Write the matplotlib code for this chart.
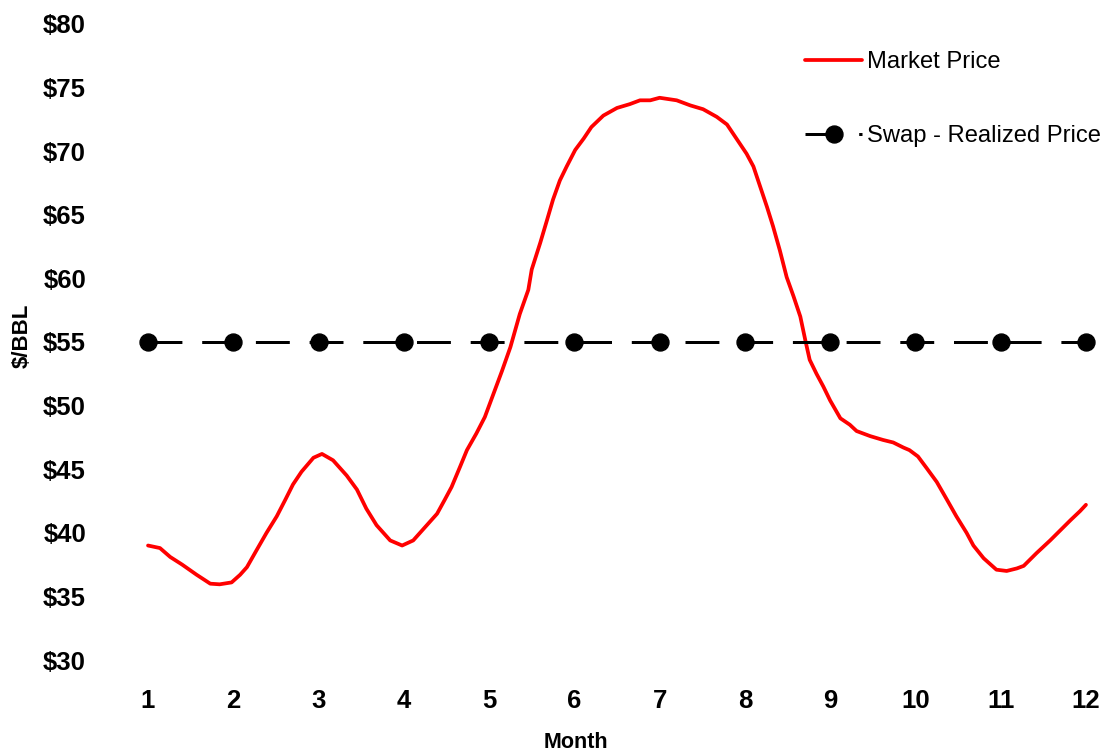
import matplotlib
matplotlib.use("Agg")
import matplotlib.pyplot as plt

plt.rcParams['font.family'] = ['Liberation Sans', 'DejaVu Sans']

# Monthly swap (realized) price, $/BBL
months = [1, 2, 3, 4, 5, 6, 7, 8, 9, 10, 11, 12]
swap_price = [55] * 12

# Market price path through the year (month position, $/BBL)
market_month = [1.00, 1.14, 1.26, 1.40, 1.57, 1.73, 1.84, 1.98, 2.08, 2.16,
                2.27, 2.39, 2.51, 2.61, 2.70, 2.80, 2.94, 3.04, 3.17, 3.33,
                3.45, 3.56, 3.68, 3.84, 3.98, 4.11, 4.27, 4.39, 4.48, 4.56,
                4.66, 4.74, 4.85, 4.95, 5.05, 5.15, 5.25, 5.36, 5.46, 5.50,
                5.60, 5.68, 5.75, 5.83, 5.91, 6.01, 6.11, 6.20, 6.34, 6.50,
                6.65, 6.77, 6.89, 7.00, 7.20, 7.36, 7.51, 7.67, 7.79, 7.90,
                8.02, 8.10, 8.18, 8.26, 8.33, 8.41, 8.49, 8.57, 8.65, 8.71,
                8.76, 8.84, 8.92, 9.00, 9.12, 9.23, 9.31, 9.47, 9.62, 9.74,
                9.86, 9.93, 10.03, 10.13, 10.25, 10.37, 10.48, 10.60, 10.68, 10.80,
                10.95, 11.07, 11.19, 11.27, 11.42, 11.58, 11.70, 11.82, 11.93, 12.00]
market_price = [39.0, 38.8, 38.1, 37.5, 36.7, 36.0, 35.95, 36.1, 36.7, 37.3,
                38.6, 40.0, 41.3, 42.6, 43.8, 44.8, 45.9, 46.2, 45.7, 44.5,
                43.4, 41.9, 40.6, 39.4, 39.0, 39.4, 40.6, 41.5, 42.6, 43.6,
                45.2, 46.5, 47.8, 49.1, 50.9, 52.7, 54.6, 57.2, 59.1, 60.7,
                62.8, 64.6, 66.2, 67.7, 68.8, 70.1, 71.0, 71.9, 72.8, 73.4,
                73.7, 74.0, 74.0, 74.2, 74.0, 73.6, 73.3, 72.7, 72.1, 71.0,
                69.8, 68.8, 67.2, 65.6, 64.1, 62.2, 60.1, 58.6, 57.0, 55.1,
                53.6, 52.5, 51.5, 50.4, 49.0, 48.5, 48.0, 47.6, 47.3, 47.1,
                46.7, 46.5, 46.0, 45.1, 44.0, 42.6, 41.3, 40.0, 39.0, 38.0,
                37.1, 37.0, 37.2, 37.4, 38.4, 39.4, 40.2, 41.0, 41.7, 42.2]

y_ticks = [30, 35, 40, 45, 50, 55, 60, 65, 70, 75, 80]
y_tick_labels = ['$' + str(v) for v in y_ticks]

W, H = 1104, 754
fig = plt.figure(figsize=(W / 100, H / 100), dpi=100)
ax = fig.add_axes([105.4 / W, 1 - 660 / H, (1103 - 105.4) / W, (660 - 24) / H])

ax.plot(market_month, market_price, color='#ff0000', lw=2.7,
        solid_joinstyle='round', solid_capstyle='round', label='Market Price')
ax.plot(months, swap_price, color='black', lw=2.16, dashes=(11.3, 6.6),
        marker='o', markersize=12.2, label='Swap - Realized Price')

ax.set_xlim(0.5, 12.2)
ax.set_ylim(30, 80)
ax.set_xticks(months)
ax.set_xticklabels([str(m) for m in months], fontsize=18.5, fontweight='bold')
ax.set_yticks(y_ticks)
ax.set_yticklabels(y_tick_labels, fontsize=18.5, fontweight='bold')
ax.tick_params(axis='both', length=0)
ax.tick_params(axis='y', pad=14)
ax.tick_params(axis='x', pad=21)
for s in ax.spines.values():
    s.set_visible(False)

fig.text(576 / W, 1 - 742 / H, 'Month', ha='center', va='center',
         fontsize=15.5, fontweight='bold')
fig.text(22 / W, 1 - 336 / H, '$/BBL', ha='center', va='center',
         rotation=90, fontsize=16, fontweight='bold')

ax.legend(loc='upper left', bbox_to_anchor=(805 / W, 1 - 51 / H),
          bbox_transform=fig.transFigure, frameon=False, fontsize=17.1,
          borderpad=0, borderaxespad=0, handlelength=2.42, handletextpad=0.2,
          labelspacing=2.2, numpoints=1)

fig.savefig('out.png', dpi=100)
